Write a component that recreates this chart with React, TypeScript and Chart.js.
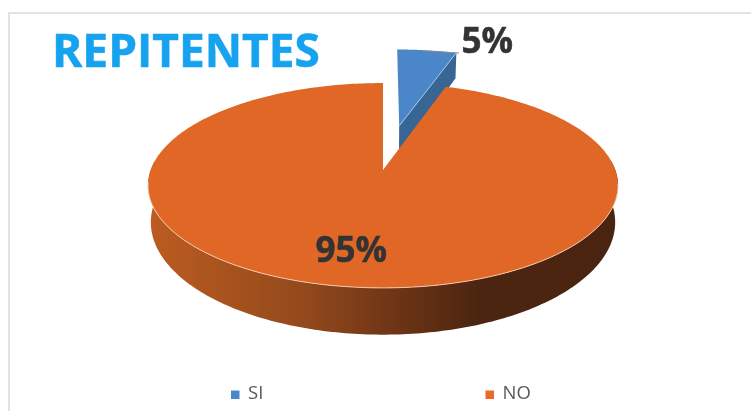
import React, { useEffect, useRef } from "react";
import { Chart, registerables } from "chart.js";

Chart.register(...registerables);

const categories = ["SI", "NO"];
const values = [5, 95];
const percentLabels = ["5%", "95%"];
const explode = [0.477, 0];
const topColors = ["#4A86C8", "#E06726"];
const sideColors = ["#376594", "#4A2410"];
const legendColors = ["#4A86C8", "#E76B26"];
const legendBoxX = [231, 485.5];

const PX = 383, PY = 170, RA = 232.3, RB = 100.1, PERSP = 0.151;
const D0 = 35.4, BOTTOM_SCALE = 0.988;

function project(u: number, v: number) {
  const w = 1 - PERSP * v;
  return { x: PX + (RA * u) / w, y: PY + (RB * v) / w };
}
function projectBottom(u: number, v: number) {
  const w = 1 - PERSP * v;
  return {
    x: PX + (RA * BOTTOM_SCALE * u) / w,
    y: PY + (RB * v) / w + D0 / Math.pow(w, 1.7),
  };
}

const pie3d = {
  id: "pie3d",
  beforeDraw(chart: any) {
    const { ctx, width, height } = chart;
    ctx.save();
    ctx.fillStyle = "#fff";
    ctx.fillRect(0, 0, width, height);
    ctx.strokeStyle = "#D9D9D9";
    ctx.lineWidth = 1.5;
    ctx.beginPath();
    ctx.moveTo(9, height);
    ctx.lineTo(9, 13);
    ctx.lineTo(width, 13);
    ctx.stroke();
    ctx.restore();
  },
  beforeDatasetsDraw(chart: any) {
    const { ctx } = chart;
    const arcs = chart.getDatasetMeta(0).data;
    ctx.save();
    arcs.forEach((arc: any, i: number) => {
      const { startAngle: a0, endAngle: a1 } = arc;
      const mid = (a0 + a1) / 2;
      const ox = explode[i] * Math.cos(mid);
      const oy = explode[i] * Math.sin(mid);
      const n = 360;
      const rim: { u: number; v: number }[] = [];
      for (let k = 0; k <= n; k++) {
        const a = a0 + ((a1 - a0) * k) / n;
        rim.push({ u: ox + Math.cos(a), v: oy + Math.sin(a) });
      }
      if (i === 1) {
        const front = rim.filter((p) => p.v >= -0.1);
        const g = ctx.createLinearGradient(148, 0, 618, 0);
        g.addColorStop(0, "#BC5C20");
        g.addColorStop(0.32, "#954A1C");
        g.addColorStop(0.5, "#733717");
        g.addColorStop(0.7, "#4C2510");
        g.addColorStop(1, "#4A2410");
        ctx.fillStyle = g;
        ctx.beginPath();
        front.forEach((p, k) => {
          const q = project(p.u, p.v);
          k ? ctx.lineTo(q.x, q.y) : ctx.moveTo(q.x, q.y);
        });
        [...front].reverse().forEach((p) => {
          const q = projectBottom(p.u, p.v);
          ctx.lineTo(q.x, q.y);
        });
        ctx.closePath();
        ctx.fill();
      } else {
        const end = rim[rim.length - 1];
        const pts = [
          project(ox, oy),
          project(end.u, end.v),
          projectBottom(end.u, end.v),
          projectBottom(ox, oy),
        ];
        ctx.fillStyle = sideColors[i];
        ctx.beginPath();
        pts.forEach((q, k) => (k ? ctx.lineTo(q.x, q.y) : ctx.moveTo(q.x, q.y)));
        ctx.closePath();
        ctx.fill();
      }
      ctx.fillStyle = topColors[i];
      ctx.beginPath();
      const c = project(ox, oy);
      ctx.moveTo(c.x, c.y);
      rim.forEach((p) => {
        const q = project(p.u, p.v);
        ctx.lineTo(q.x, q.y);
      });
      ctx.closePath();
      ctx.fill();
      ctx.lineWidth = 1;
      if (i === 1) {
        ctx.strokeStyle = "rgba(250,215,190,0.85)";
        ctx.beginPath();
        let started = false;
        rim.forEach((p) => {
          if (p.v < 0.12) return;
          const q = project(p.u, p.v);
          started ? ctx.lineTo(q.x, q.y) : ctx.moveTo(q.x, q.y);
          started = true;
        });
        ctx.stroke();
      } else {
        const end = rim[rim.length - 1];
        const p1 = project(ox, oy);
        const p2 = project(end.u, end.v);
        ctx.strokeStyle = "rgba(170,200,235,0.9)";
        ctx.beginPath();
        ctx.moveTo(p1.x, p1.y);
        ctx.lineTo(p2.x, p2.y);
        ctx.stroke();
      }
    });
    ctx.restore();
    return false;
  },
  afterDraw(chart: any) {
    const { ctx } = chart;
    ctx.save();
    ctx.textBaseline = "alphabetic";
    ctx.textAlign = "left";
    ctx.lineJoin = "round";
    ctx.fillStyle = "#16A2EE";
    ctx.strokeStyle = "#16A2EE";
    ctx.lineWidth = 0.6;
    ctx.font = 'bold 46px "Open Sans"';
    ctx.fillText("REPITENTES", 52, 67);
    ctx.strokeText("REPITENTES", 52, 67);
    ctx.strokeStyle = "#8C8C8C";
    ctx.lineWidth = 1;
    ctx.beginPath();
    ctx.moveTo(425, 51);
    ctx.lineTo(459, 53);
    ctx.stroke();
    ctx.fillStyle = "#333333";
    ctx.strokeStyle = "#333333";
    ctx.lineWidth = 0.5;
    ctx.font = 'bold 35px "Open Sans"';
    ctx.fillText(percentLabels[0], 461.5, 53);
    ctx.strokeText(percentLabels[0], 461.5, 53);
    ctx.fillText(percentLabels[1], 315.5, 262);
    ctx.strokeText(percentLabels[1], 315.5, 262);
    ctx.font = '18.5px "Open Sans"';
    categories.forEach((name, i) => {
      ctx.fillStyle = legendColors[i];
      ctx.fillRect(legendBoxX[i], 390.5, 8.5, 8.5);
      ctx.fillStyle = "#595959";
      ctx.fillText(name, legendBoxX[i] + 17, 399);
    });
    ctx.restore();
  },
};

export default function App() {
  const ref = useRef<HTMLCanvasElement>(null);
  useEffect(() => {
    const chart = new Chart(ref.current!, {
      type: "pie",
      data: {
        labels: categories,
        datasets: [{ data: values, backgroundColor: topColors, borderWidth: 0 }],
      },
      options: {
        responsive: false,
        animation: false,
        plugins: {
          tooltip: { enabled: false },
          legend: { display: false },
        },
      },
      plugins: [pie3d],
    } as any);
    return () => chart.destroy();
  }, []);
  return (
    <canvas
      ref={ref}
      width={751}
      height={411}
      style={{ position: "fixed", left: 0, top: 0, width: 751, height: 411, filter: "blur(0.45px)" }}
    />
  );
}
